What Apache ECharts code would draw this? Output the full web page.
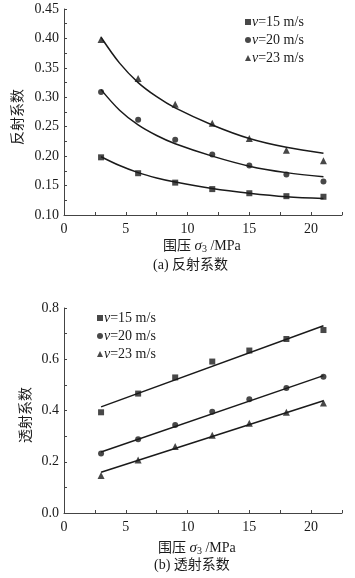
<!DOCTYPE html>
<html>
<head>
<meta charset="utf-8">
<script src="https://cdn.jsdelivr.net/npm/echarts@6/dist/echarts.min.js"></script>
<style>html,body{margin:0;padding:0;background:#fff}#c{width:355px;height:578px}</style>
</head>
<body>
<div id="c"></div>
<script>
// ---- data ----
var pressures = [3, 6, 9, 12, 15, 18, 21];
var seriesNames = ['v=15 m/s', 'v=20 m/s', 'v=23 m/s'];
var speeds = ['15', '20', '23'];

// (a) reflection coefficient measured points
var refl15 = [0.198, 0.171, 0.155, 0.144, 0.137, 0.132, 0.131];
var refl20 = [0.309, 0.262, 0.228, 0.203, 0.184, 0.169, 0.157];
var refl23 = [0.398, 0.332, 0.288, 0.256, 0.230, 0.210, 0.192];
// (a) fitted curves
var reflFitX = [3, 4.5, 6, 7.5, 9, 12, 15, 18, 21];
var reflFit15 = [0.199, 0.184, 0.172, 0.163, 0.156, 0.145, 0.137, 0.131, 0.128];
var reflFit20 = [0.313, 0.278, 0.253, 0.235, 0.221, 0.200, 0.183, 0.172, 0.165];
var reflFit23 = [0.402, 0.358, 0.325, 0.301, 0.282, 0.253, 0.230, 0.215, 0.205];

// (b) transmission coefficient measured points
var trans15 = [0.393, 0.466, 0.529, 0.591, 0.634, 0.679, 0.714];
var trans20 = [0.232, 0.288, 0.343, 0.395, 0.444, 0.488, 0.532];
var trans23 = [0.146, 0.207, 0.260, 0.303, 0.350, 0.393, 0.429];
// (b) fitted lines
var transFitX = [3, 21];
var transFit15 = [0.414, 0.731];
var transFit20 = [0.238, 0.536];
var transFit23 = [0.159, 0.438];

var xTicks = [0, 5, 10, 15, 20];
var yTicksA = [0.10, 0.15, 0.20, 0.25, 0.30, 0.35, 0.40, 0.45];
var yTicksB = [0.0, 0.2, 0.4, 0.6, 0.8];

// ---- styling ----
var FONT = "'Liberation Serif','Noto Sans CJK SC',serif";
var INK = '#1a1a1a';
var FS = 14;
var symbols = ['rect', 'circle', 'triangle'];
var symSizes = [6, 6, 7];

function pairs(xs, ys) { return xs.map(function (x, i) { return [x, ys[i]]; }); }

function xAxisCfg(gi) {
  return {
    type: 'value', gridIndex: gi, min: 0, max: 22.5, interval: 2.5,
    axisLine: { lineStyle: { color: '#444', width: 1 } },
    axisTick: { inside: true, length: 3, lineStyle: { color: '#444' } },
    splitLine: { show: false },
    axisLabel: {
      fontFamily: FONT, fontSize: FS, color: INK, margin: 7,
      formatter: function (v) { return xTicks.indexOf(v) >= 0 ? String(v) : ''; }
    }
  };
}
function yAxisCfg(gi, min, max, step, labels, digits) {
  return {
    type: 'value', gridIndex: gi, min: min, max: max, interval: step,
    axisLine: { show: true, lineStyle: { color: '#444', width: 1 } },
    axisTick: { show: true, inside: true, length: 3, lineStyle: { color: '#444' } },
    splitLine: { show: false },
    axisLabel: {
      fontFamily: FONT, fontSize: FS, color: INK, margin: 5,
      formatter: function (v) {
        for (var i = 0; i < labels.length; i++) if (Math.abs(labels[i] - v) < 1e-6) return v.toFixed(digits);
        return '';
      }
    }
  };
}

var series = [];
var measA = [refl15, refl20, refl23];
var fitA = [reflFit15, reflFit20, reflFit23];
var measB = [trans15, trans20, trans23];
var fitB = [transFit15, transFit20, transFit23];
for (var k = 0; k < 3; k++) {
  series.push({
    name: 'fitA' + k, type: 'line', xAxisIndex: 0, yAxisIndex: 0,
    data: pairs(reflFitX, fitA[k]), smooth: 0.35, showSymbol: false, symbol: 'none',
    lineStyle: { color: INK, width: 1.5 }, silent: true, z: 1
  });
  series.push({
    name: 'fitB' + k, type: 'line', xAxisIndex: 1, yAxisIndex: 1,
    data: pairs(transFitX, fitB[k]), showSymbol: false, symbol: 'none',
    lineStyle: { color: INK, width: 1.5 }, silent: true, z: 1
  });
}
for (var k2 = 0; k2 < 3; k2++) {
  series.push({
    name: seriesNames[k2], type: 'scatter', xAxisIndex: 0, yAxisIndex: 0,
    data: pairs(pressures, measA[k2]), symbol: symbols[k2], symbolSize: symSizes[k2],
    itemStyle: { color: INK }, z: 3
  });
  series.push({
    name: seriesNames[k2], type: 'scatter', xAxisIndex: 1, yAxisIndex: 1,
    data: pairs(pressures, measB[k2]), symbol: symbols[k2], symbolSize: symSizes[k2],
    itemStyle: { color: INK }, z: 3
  });
}

function legendCfg(left, top) {
  return {
    orient: 'vertical', left: left, top: top, itemGap: 4,
    itemWidth: 6, itemHeight: 6, selectedMode: false,
    data: seriesNames.map(function (n, i) { return { name: n, icon: symbols[i] }; }),
    formatter: function (n) { return '{i|v}{n|=' + speeds[seriesNames.indexOf(n)] + ' m/s}'; },
    textStyle: {
      fontFamily: FONT, fontSize: FS, color: INK, padding: [0, 0, 0, -4],
      rich: {
        i: { fontFamily: FONT, fontStyle: 'italic', fontSize: FS, color: INK },
        n: { fontFamily: FONT, fontSize: FS, color: INK }
      }
    }
  };
}

function xName(cx, cy) {
  return {
    type: 'text', left: cx - 39, top: cy - 9,
    style: {
      text: '{c|围压 }{s|σ}{sub|3}{c| /MPa}',
      rich: {
        c: { fontFamily: FONT, fontSize: FS, fill: INK },
        s: { fontFamily: FONT, fontSize: 15, fontStyle: 'italic', fill: INK },
        sub: { fontFamily: FONT, fontSize: 10, fill: INK, padding: [6, 0, 0, 0] }
      }
    }
  };
}
function caption(txt, cx, cy) {
  return {
    type: 'text', left: cx - 42, top: cy - 9,
    style: { text: txt, fontFamily: FONT, fontSize: FS, fill: INK }
  };
}
function yName(txt, cx, cy) {
  return {
    type: 'text', x: cx, y: cy, rotation: Math.PI / 2,
    style: { text: txt, fontFamily: FONT, fontSize: FS, fill: INK, align: 'center', verticalAlign: 'middle' }
  };
}

var chart = echarts.init(document.getElementById('c'), null, { renderer: 'canvas' });
chart.setOption({
  backgroundColor: '#fff',
  animation: false,
  grid: [
    { left: 64, top: 9, width: 278, height: 206 },
    { left: 64, top: 308, width: 278, height: 205 }
  ],
  xAxis: [xAxisCfg(0), xAxisCfg(1)],
  yAxis: [
    yAxisCfg(0, 0.10, 0.45, 0.025, yTicksA, 2),
    yAxisCfg(1, 0.0, 0.8, 0.1, yTicksB, 1)
  ],
  legend: [legendCfg(240, 10), legendCfg(92, 306)],
  series: series,
  graphic: [
    yName('反射系数', 18, 117),
    yName('透射系数', 26, 415),
    xName(202, 248),
    caption('(a) 反射系数', 195, 267),
    xName(197, 550),
    caption('(b) 透射系数', 196, 567)
  ]
});
</script>
</body>
</html>
